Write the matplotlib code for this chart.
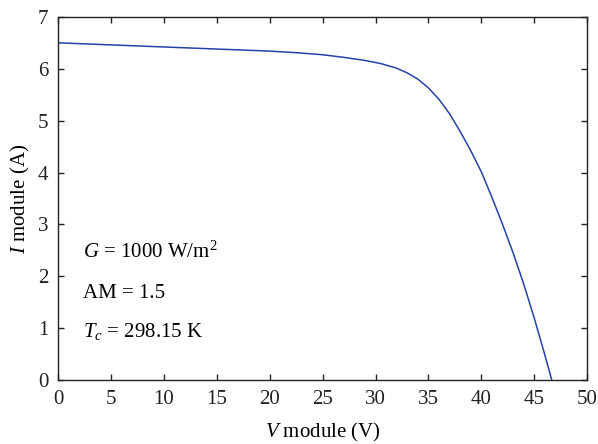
import matplotlib
matplotlib.use("Agg")
import matplotlib.pyplot as plt

# I-V curve of the module
voltage = [0, 5, 10, 15, 20, 22.5, 25, 27, 29, 30.5, 32, 33, 34, 35, 36, 37, 38, 39, 40,
           41, 42, 43, 44, 45, 46, 46.65]
current = [6.50, 6.46, 6.42, 6.38, 6.34, 6.31, 6.27, 6.22, 6.16, 6.10, 6.01, 5.92, 5.80, 5.63,
           5.41, 5.13, 4.79, 4.42, 4.01, 3.52, 3.00, 2.45, 1.85, 1.19, 0.48, 0.0]

x_ticks = [0, 5, 10, 15, 20, 25, 30, 35, 40, 45, 50]
y_ticks = [0, 1, 2, 3, 4, 5, 6, 7]

plt.rcParams['font.family'] = 'Liberation Serif'
plt.rcParams['mathtext.fontset'] = 'custom'
plt.rcParams['mathtext.rm'] = 'Liberation Serif'
plt.rcParams['mathtext.it'] = 'Liberation Serif:italic'
plt.rcParams['font.size'] = 15

fig = plt.figure(figsize=(5.98, 4.44), dpi=100)
ax = fig.add_axes([0.097, 0.144, 0.885, 0.818])

ax.plot(voltage, current, color='#2443a8', linewidth=1.1)

ax.set_xlim(0, 50)
ax.set_ylim(0, 7)
ax.set_xticks(x_ticks)
ax.set_yticks(y_ticks)
ax.tick_params(direction='in', top=True, right=True, length=4, width=1, colors='#222222')
ax.tick_params(axis='x', pad=7)
ax.tick_params(axis='y', pad=7)
for s in ax.spines.values():
    s.set_linewidth(1.0)
    s.set_color('#222222')

ax.set_xlabel(r'$V$ module (V)', labelpad=9)
ax.set_ylabel(r'$I$ module (A)', labelpad=4)

ax.text(2.35, 2.35, r'$G$ = 1000 W/m$^2$', va='baseline')
ax.text(2.35, 1.58, 'AM = 1.5', va='baseline')
ax.text(2.35, 0.83, r'$T_c$ = 298.15 K', va='baseline')

plt.savefig('out.png', dpi=100)
